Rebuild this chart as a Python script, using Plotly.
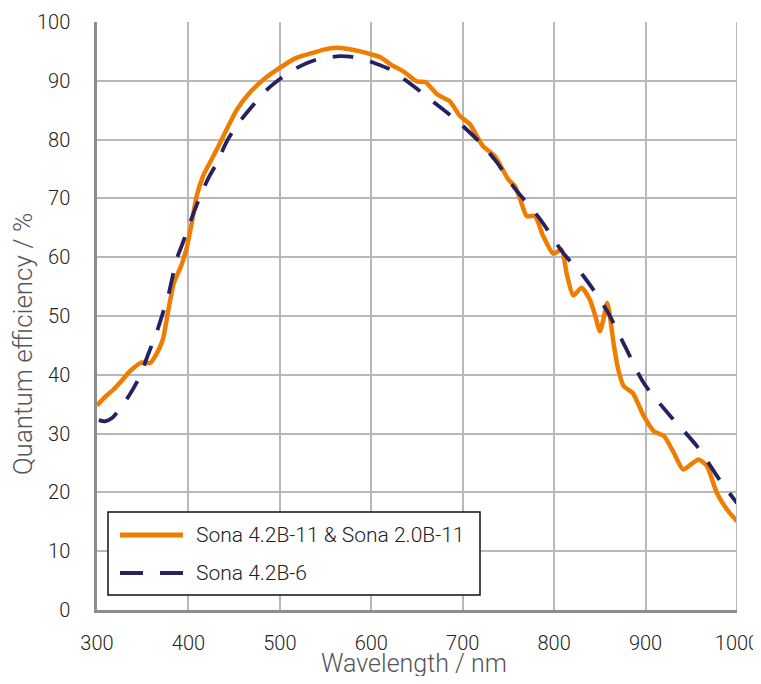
import plotly.graph_objects as go

# Sona 4.2B-11 & Sona 2.0B-11 (orange, solid)
wl_11 = [300, 310, 318, 327, 336, 349, 358, 365, 372, 378, 384, 392, 398, 403, 409, 416,
         431, 442, 453, 466, 482, 497, 518, 535, 548, 562, 575, 588, 600, 610, 621, 635,
         650, 659, 672, 686, 697, 708, 722, 735, 750, 757, 763, 770, 779, 788, 799, 808,
         814, 821, 830, 839, 845, 850, 854, 858, 861, 865, 870, 876, 886, 898, 909, 920,
         930, 941, 950, 958, 967, 978, 989, 1000]
qe_11 = [34.8, 36.4, 37.5, 39.0, 40.6, 42.1, 42.0, 43.5, 46.0, 51.0, 55.6, 58.5, 61.5, 65.3, 70.4, 73.8,
         78.3, 81.8, 85.1, 87.8, 90.2, 91.9, 93.9, 94.7, 95.3, 95.6, 95.4, 95.0, 94.5, 94.0, 92.8, 91.6,
         89.9, 89.8, 87.7, 86.5, 84.0, 82.6, 78.9, 77.2, 73.2, 72.1, 69.8, 67.0, 67.0, 63.6, 60.6, 61.3,
         57.0, 53.5, 54.8, 52.8, 50.0, 47.4, 49.5, 52.2, 50.0, 45.4, 41.0, 38.1, 36.9, 33.0, 30.4, 29.6,
         27.0, 23.9, 24.8, 25.6, 24.5, 19.9, 17.1, 15.1]

# Sona 4.2B-6 (navy, dashed)
wl_6 = [302, 309, 316, 323, 336, 347, 356, 365, 372, 378, 387, 394, 402, 413, 422, 431,
        442, 452, 464, 486, 500, 515, 540, 566, 577, 590, 602, 621, 646, 668, 690, 719,
        737, 755, 785, 810, 832, 857, 877, 898, 927, 956, 982, 1000]
qe_6 = [32.3, 32.1, 32.6, 33.8, 36.7, 39.8, 43.5, 47.1, 50.5, 53.5, 59.6, 62.5, 66.0, 70.4, 73.5, 76.0,
        79.7, 82.2, 84.6, 88.5, 90.3, 91.9, 93.6, 94.2, 94.1, 93.7, 93.1, 91.9, 89.1, 86.4, 83.7, 79.5,
        76.2, 72.1, 66.4, 60.7, 56.8, 51.1, 45.0, 38.6, 33.0, 27.9, 21.9, 18.2]

series_names = ["Sona 4.2B-11 & Sona 2.0B-11", "Sona 4.2B-6"]
series_colors = ["#F07D00", "#262262"]

x_ticks = [300, 400, 500, 600, 700, 800, 900, 1000]
y_ticks = [0, 10, 20, 30, 40, 50, 60, 70, 80, 90, 100]

FONT = "Helvetica Neue, Roboto, Liberation Sans, Arial, sans-serif"
DASH = "21px,17px"

# page body has an 8px margin; figure sized so the page does not overflow vertically
OFF = 8
W, H = 761 - OFF, 684 - 2 * OFF
# desired plot area in screen pixels
PL, PR, PT, PB = 97, 737, 22, 610
ml, mt = PL - OFF, PT - OFF
mr, mb = W - (PR - OFF), H - (PB - OFF)
pw, ph = PR - PL, PB - PT


def px_to_paper(sx, sy):
    return (sx - PL) / pw, (PB - sy) / ph


fig = go.Figure()
fig.add_trace(go.Scatter(
    x=wl_11, y=qe_11, mode="lines", name=series_names[0],
    line=dict(color=series_colors[0], width=4.5, shape="spline", smoothing=0.6),
))
fig.add_trace(go.Scatter(
    x=wl_6, y=qe_6, mode="lines", name=series_names[1],
    line=dict(color=series_colors[1], width=3.8, dash=DASH, shape="spline", smoothing=0.8),
))

tx, ty = px_to_paper(414, 663)
yx, yy = px_to_paper(23, 344)

annotations = [
    dict(text="Wavelength / nm", x=tx, y=ty, xref="paper", yref="paper",
         xanchor="center", yanchor="middle",
         showarrow=False, font=dict(size=25, color="#555555")),
    dict(text="Quantum efficiency / %", textangle=-90, x=yx, y=yy, xref="paper", yref="paper",
         xanchor="center", yanchor="middle",
         showarrow=False, font=dict(size=26, color="#555555")),
]

shapes = []
# legend box
bx0, by0 = px_to_paper(108, 595)
bx1, by1 = px_to_paper(480, 512)
shapes.append(dict(type="rect", xref="paper", yref="paper", x0=bx0, y0=by0, x1=bx1, y1=by1,
                   line=dict(color="#111111", width=1.5), fillcolor="white", layer="above"))
row_y = [535, 573]
for i, (nm, col) in enumerate(zip(series_names, series_colors)):
    sx0, sy = px_to_paper(120, row_y[i])
    sx1, _ = px_to_paper(183, row_y[i])
    shapes.append(dict(type="line", xref="paper", yref="paper", x0=sx0, x1=sx1, y0=sy, y1=sy,
                       line=dict(color=col, width=5 if i == 0 else 4,
                                 dash="solid" if i == 0 else "23px,17px"), layer="above"))
    ax, ay = px_to_paper(194, row_y[i])
    annotations.append(dict(text=nm, x=ax, y=ay, xref="paper", yref="paper",
                            xanchor="left", yanchor="middle", showarrow=False,
                            font=dict(size=21, color="#222222")))

# right border (gridline at 1000)
shapes.append(dict(type="line", xref="x", yref="paper", x0=1000, x1=1000, y0=0, y1=1,
                   line=dict(color="#b8b8b8", width=2)))

fig.update_layout(
    width=W, height=H,
    margin=dict(l=ml, r=mr, t=mt, b=mb, autoexpand=False),
    plot_bgcolor="white", paper_bgcolor="white",
    font=dict(family=FONT, size=20, color="#222222", weight=300),
    showlegend=False,
    xaxis=dict(
        range=[300, 1000], tickvals=x_ticks, ticktext=[str(v) for v in x_ticks],
        showgrid=True, gridcolor="#b8b8b8", gridwidth=1.5,
        showline=True, linecolor="#8c8c8c", linewidth=2.5, mirror=False,
        ticks="", ticklabelstandoff=13, zeroline=False, ticklabeloverflow="allow",
        tickfont=dict(size=20, color="#222222"),
    ),
    yaxis=dict(
        range=[0, 100], tickvals=y_ticks, ticktext=[str(v) for v in y_ticks],
        showgrid=True, gridcolor="#b8b8b8", gridwidth=1.5,
        showline=True, linecolor="#8c8c8c", linewidth=2.5, mirror=False,
        ticks="", ticklabelstandoff=20, zeroline=False, ticklabeloverflow="allow",
        tickfont=dict(size=20, color="#222222"),
    ),
    annotations=annotations,
    shapes=shapes,
)

fig.write_html("out.html")
